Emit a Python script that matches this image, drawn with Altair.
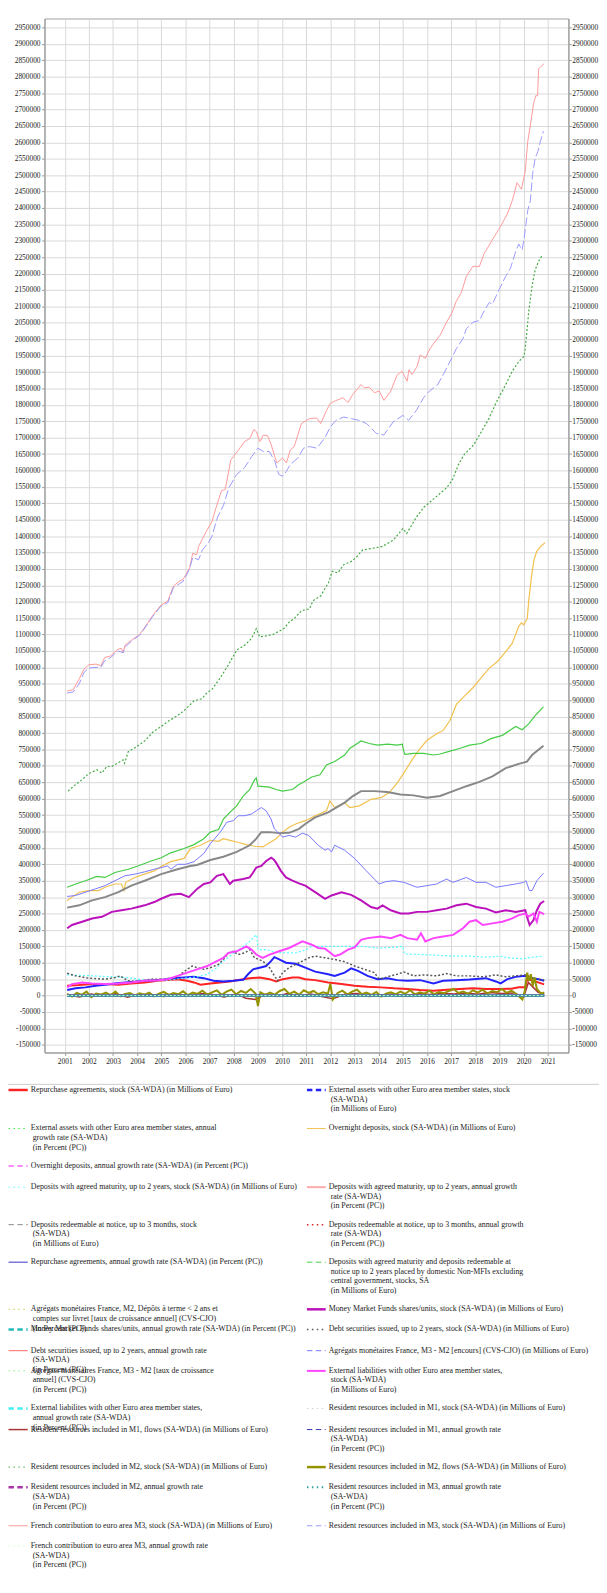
import altair as alt
import pandas as pd
from datetime import datetime

# ---------------- data (decimal year, value) ----------------
REPO_STOCK = [(2001.10, 30000), (2001.6, 32000), (2002.13, 35000), (2002.67, 35000), (2003.22, 33000), (2003.76, 37000),
              (2004.31, 40000), (2004.85, 45000), (2005.26, 47000), (2005.67, 50000), (2006.07, 45000), (2006.35, 40000),
              (2006.62, 33000), (2007.03, 37000), (2007.44, 40000), (2007.84, 43000), (2008.25, 48000), (2008.66, 53000),
              (2009.07, 55000), (2009.48, 50000), (2009.75, 43000), (2010.02, 50000), (2010.43, 55000), (2010.7, 55000),
              (2010.96, 50000), (2011.37, 47000), (2011.91, 40000), (2012.46, 35000), (2013.0, 30000), (2013.54, 27000),
              (2014.09, 25000), (2014.63, 22000), (2015.18, 20000), (2015.72, 17000), (2016.27, 15000), (2016.81, 18000),
              (2017.35, 20000), (2017.9, 22000), (2018.44, 20000), (2018.99, 20000), (2019.5, 21000), (2019.8, 25000),
              (2020.07, 25000), (2020.15, 50000), (2020.4, 45000), (2020.6, 40000), (2020.85, 34000)]
EXT_ASSETS_STOCK = [(2001.1, 17000), (2001.45, 22000), (2001.86, 25000), (2002.27, 30000), (2002.67, 33000), (2003.08, 37000),
                    (2003.49, 40000), (2003.9, 42000), (2004.31, 45000), (2004.71, 47000), (2005.12, 49000), (2005.53, 53000),
                    (2005.94, 55000), (2006.35, 57000), (2006.76, 53000), (2007.16, 45000), (2007.57, 43000), (2007.98, 45000),
                    (2008.39, 48000), (2008.59, 65000), (2008.8, 80000), (2009.07, 85000), (2009.34, 90000), (2009.54, 105000),
                    (2009.68, 117000), (2009.88, 110000), (2010.16, 100000), (2010.56, 97000), (2010.96, 85000), (2011.37, 73000),
                    (2011.91, 65000), (2012.18, 60000), (2012.59, 70000), (2012.86, 83000), (2013.14, 75000), (2013.54, 60000),
                    (2013.95, 50000), (2014.36, 53000), (2014.77, 47000), (2015.18, 45000), (2015.72, 47000), (2016.27, 37000),
                    (2016.67, 45000), (2017.22, 47000), (2017.76, 49000), (2018.44, 53000), (2018.85, 43000), (2019.05, 37000),
                    (2019.33, 50000), (2019.67, 57000), (2020.07, 60000), (2020.35, 53000), (2020.62, 50000), (2020.85, 45000)]
OVERNIGHT_STOCK = [(2001.1, 290000), (2001.3, 300000), (2001.6, 315000), (2002.0, 320000), (2002.4, 320000), (2002.67, 330000),
                   (2003.08, 340000), (2003.35, 340000), (2003.46, 320000), (2003.52, 345000), (2003.9, 360000), (2004.3, 370000),
                   (2004.71, 380000), (2004.99, 393000), (2005.39, 408000), (2005.94, 418000), (2006.21, 448000), (2006.62, 458000),
                   (2007.03, 473000), (2007.37, 470000), (2007.57, 478000), (2007.84, 473000), (2008.12, 468000), (2008.52, 460000),
                   (2008.86, 455000), (2009.2, 453000), (2009.48, 466000), (2009.75, 478000), (2010.02, 498000), (2010.29, 513000),
                   (2010.56, 523000), (2010.96, 533000), (2011.37, 548000), (2011.84, 563000), (2011.98, 593000), (2012.18, 573000),
                   (2012.59, 588000), (2012.8, 573000), (2013.2, 578000), (2013.68, 598000), (2014.09, 603000), (2014.43, 618000),
                   (2014.77, 648000), (2015.04, 678000), (2015.38, 718000), (2015.72, 753000), (2016.0, 778000), (2016.4, 798000),
                   (2016.67, 808000), (2016.95, 838000), (2017.22, 888000), (2017.49, 908000), (2017.9, 938000), (2018.24, 968000),
                   (2018.58, 998000), (2018.92, 1018000), (2019.26, 1048000), (2019.53, 1073000), (2019.8, 1125000),
                   (2019.91, 1136000), (2020.0, 1130000), (2020.15, 1148000), (2020.22, 1208000), (2020.33, 1278000),
                   (2020.43, 1328000), (2020.54, 1353000), (2020.7, 1368000), (2020.88, 1380000)]
DEP_AGREED_STOCK = [(2001.1, 63000), (2001.6, 62000), (2002.13, 60000), (2002.67, 58000), (2003.22, 57000), (2003.76, 53000),
                    (2004.31, 47000), (2004.85, 45000), (2005.39, 48000), (2005.94, 53000), (2006.48, 57000), (2006.9, 65000),
                    (2007.3, 85000), (2007.57, 105000), (2007.84, 120000), (2008.12, 135000), (2008.39, 150000), (2008.66, 165000),
                    (2008.86, 180000), (2008.95, 185000), (2009.0, 140000), (2009.34, 140000), (2009.75, 132000), (2010.16, 130000),
                    (2010.56, 130000), (2011.0, 140000), (2011.23, 150000), (2011.91, 150000), (2012.59, 150000), (2013.27, 150000),
                    (2013.95, 145000), (2014.63, 147000), (2015.0, 150000), (2015.07, 127000), (2015.72, 125000), (2016.4, 123000),
                    (2017.08, 120000), (2017.76, 120000), (2018.44, 117000), (2018.99, 120000), (2019.4, 115000), (2019.94, 112000),
                    (2020.35, 117000), (2020.82, 120000)]
DEP_REDEEM_STOCK = [(2001.1, 268000), (2001.6, 275000), (2002.13, 290000), (2002.67, 300000), (2003.22, 315000), (2003.76, 335000),
                    (2004.31, 350000), (2004.99, 370000), (2005.67, 385000), (2006.2, 395000), (2006.48, 398000), (2007.03, 413000),
                    (2007.57, 423000), (2008.12, 438000), (2008.66, 458000), (2008.93, 478000), (2009.14, 498000), (2009.48, 498000),
                    (2009.88, 495000), (2010.29, 496000), (2010.7, 508000), (2010.96, 523000), (2011.37, 543000), (2011.91, 558000),
                    (2012.59, 588000), (2012.93, 608000), (2013.27, 623000), (2013.82, 623000), (2014.36, 620000), (2014.9, 613000),
                    (2015.45, 610000), (2016.0, 603000), (2016.54, 608000), (2017.08, 623000), (2017.63, 638000), (2018.17, 651000),
                    (2018.71, 668000), (2019.26, 693000), (2019.8, 706000), (2020.14, 713000), (2020.35, 733000), (2020.82, 761000)]
DEP_AGREED_REDEEM_STOCK = [(2001.1, 330000), (2001.45, 340000), (2001.86, 350000), (2002.33, 363000), (2002.67, 360000),
                           (2003.08, 375000), (2003.63, 385000), (2004.03, 395000), (2004.58, 410000), (2004.99, 420000),
                           (2005.39, 435000), (2005.94, 448000), (2006.35, 460000), (2006.76, 478000), (2007.03, 498000),
                           (2007.37, 506000), (2007.57, 538000), (2007.84, 558000), (2008.12, 578000), (2008.39, 608000),
                           (2008.66, 628000), (2008.86, 658000), (2008.93, 663000), (2009.0, 638000), (2009.48, 635000),
                           (2009.75, 628000), (2010.02, 623000), (2010.43, 628000), (2010.7, 643000), (2010.82, 648000),
                           (2011.23, 666000), (2011.57, 673000), (2011.84, 703000), (2012.18, 713000), (2012.59, 733000),
                           (2012.8, 753000), (2013.0, 763000), (2013.27, 776000), (2013.61, 768000), (2013.95, 763000),
                           (2014.36, 766000), (2014.77, 763000), (2014.98, 766000), (2015.02, 750000), (2015.08, 735000),
                           (2015.45, 738000), (2015.86, 738000), (2016.27, 733000), (2016.54, 736000), (2016.95, 745000),
                           (2017.35, 753000), (2017.76, 763000), (2018.24, 768000), (2018.65, 783000), (2019.12, 793000),
                           (2019.53, 813000), (2019.67, 820000), (2019.94, 810000), (2020.21, 828000), (2020.48, 853000),
                           (2020.82, 880000)]
MMF_STOCK = [(2001.1, 205000), (2001.3, 215000), (2001.72, 225000), (2002.13, 235000), (2002.54, 240000), (2002.95, 255000),
             (2003.35, 260000), (2003.76, 265000), (2004.03, 270000), (2004.31, 275000), (2004.71, 285000), (2004.99, 295000),
             (2005.39, 307000), (2005.8, 310000), (2006.14, 300000), (2006.48, 325000), (2006.76, 340000), (2007.03, 345000),
             (2007.3, 365000), (2007.57, 370000), (2007.84, 340000), (2007.98, 350000), (2008.39, 355000), (2008.66, 360000),
             (2008.8, 375000), (2008.93, 390000), (2009.14, 395000), (2009.34, 410000), (2009.55, 420000), (2009.65, 415000),
             (2009.75, 405000), (2009.95, 380000), (2010.16, 360000), (2010.43, 350000), (2010.7, 342000), (2010.96, 335000),
             (2011.37, 315000), (2011.78, 295000), (2012.05, 305000), (2012.46, 315000), (2012.86, 307000), (2013.27, 290000),
             (2013.68, 270000), (2013.95, 265000), (2014.16, 275000), (2014.5, 260000), (2014.9, 250000), (2015.24, 250000),
             (2015.59, 255000), (2016.0, 255000), (2016.4, 260000), (2016.81, 265000), (2017.22, 275000), (2017.63, 280000),
             (2018.03, 270000), (2018.44, 265000), (2018.85, 253000), (2019.26, 260000), (2019.67, 255000), (2020.07, 260000),
             (2020.14, 240000), (2020.25, 215000), (2020.41, 230000), (2020.55, 260000), (2020.69, 280000), (2020.85, 288000)]
DEBT_STOCK = [(2001.1, 68000), (2001.45, 60000), (2001.99, 53000), (2002.67, 50000), (2003.1, 55000), (2003.29, 60000),
              (2003.63, 45000), (2004.03, 43000), (2004.58, 50000), (2005.12, 50000), (2005.67, 57000), (2006.07, 80000),
              (2006.28, 90000), (2006.48, 85000), (2006.76, 80000), (2007.03, 85000), (2007.37, 95000), (2007.57, 110000),
              (2007.78, 130000), (2007.98, 135000), (2008.18, 125000), (2008.46, 130000), (2008.66, 140000), (2008.86, 115000),
              (2009.2, 105000), (2009.48, 85000), (2009.68, 60000), (2009.82, 45000), (2010.02, 70000), (2010.29, 85000),
              (2010.56, 95000), (2010.84, 105000), (2011.1, 115000), (2011.37, 120000), (2011.78, 115000), (2012.18, 110000),
              (2012.59, 103000), (2013.0, 90000), (2013.41, 80000), (2013.82, 70000), (2014.02, 50000), (2014.36, 57000),
              (2014.77, 65000), (2015.04, 72000), (2015.45, 60000), (2015.86, 63000), (2016.4, 60000), (2016.81, 67000),
              (2017.22, 60000), (2017.76, 60000), (2018.31, 57000), (2018.85, 63000), (2019.26, 57000), (2019.67, 60000),
              (2020.07, 63000), (2020.48, 50000), (2020.85, 47000)]
M3M2_STOCK = [(2001.1, 302000), (2001.45, 305000), (2001.86, 315000), (2002.27, 325000), (2002.67, 335000), (2003.08, 350000),
              (2003.49, 365000), (2003.9, 370000), (2004.31, 377000), (2004.71, 385000), (2005.26, 395000), (2005.4, 385000),
              (2005.67, 400000), (2006.0, 400000), (2006.35, 408000), (2006.76, 433000), (2007.03, 463000), (2007.44, 498000),
              (2007.71, 528000), (2007.98, 533000), (2008.18, 548000), (2008.46, 548000), (2008.73, 553000), (2008.93, 563000),
              (2009.14, 573000), (2009.34, 563000), (2009.54, 538000), (2009.68, 508000), (2009.82, 498000), (2010.02, 483000),
              (2010.29, 488000), (2010.56, 483000), (2010.84, 495000), (2011.1, 488000), (2011.5, 458000), (2011.78, 443000),
              (2011.9, 448000), (2012.05, 438000), (2012.18, 458000), (2012.59, 443000), (2013.0, 418000), (2013.41, 386000),
              (2013.82, 355000), (2014.02, 340000), (2014.29, 347000), (2014.63, 350000), (2015.04, 345000), (2015.59, 330000),
              (2016.0, 335000), (2016.4, 340000), (2016.81, 355000), (2017.08, 345000), (2017.63, 360000), (2018.03, 345000),
              (2018.44, 345000), (2018.85, 330000), (2019.26, 335000), (2019.67, 340000), (2020.01, 345000), (2020.1, 350000),
              (2020.24, 320000), (2020.35, 320000), (2020.55, 350000), (2020.82, 373000)]
EXT_LIAB_STOCK = [(2001.1, 25000), (2001.3, 35000), (2001.72, 40000), (2002.13, 37000), (2002.67, 35000), (2003.22, 37000),
                  (2003.76, 40000), (2004.31, 45000), (2004.85, 47000), (2005.26, 50000), (2005.67, 60000), (2006.07, 70000),
                  (2006.48, 80000), (2006.9, 90000), (2007.3, 105000), (2007.57, 115000), (2007.78, 130000), (2008.12, 135000),
                  (2008.52, 150000), (2008.73, 140000), (2008.93, 125000), (2009.2, 115000), (2009.48, 125000), (2009.88, 135000),
                  (2010.29, 145000), (2010.7, 160000), (2010.84, 165000), (2011.23, 155000), (2011.5, 145000), (2011.78, 143000),
                  (2012.18, 120000), (2012.4, 125000), (2012.73, 140000), (2013.0, 147000), (2013.27, 170000), (2013.54, 175000),
                  (2014.09, 180000), (2014.5, 175000), (2014.9, 185000), (2015.18, 175000), (2015.59, 170000), (2015.75, 190000),
                  (2015.93, 165000), (2016.27, 175000), (2016.67, 180000), (2017.08, 185000), (2017.49, 205000), (2017.76, 225000),
                  (2018.03, 230000), (2018.31, 215000), (2018.71, 220000), (2019.12, 225000), (2019.53, 235000), (2019.8, 245000),
                  (2020.07, 250000), (2020.2, 240000), (2020.41, 250000), (2020.55, 225000), (2020.65, 255000), (2020.85, 248000)]
M1_FLOWS = [(2001.1, 3000), (2001.6, -4000), (2002.1, 5000), (2002.6, -2000), (2003.1, 6000), (2003.6, -5000), (2004.1, 4000),
            (2004.6, 2000), (2005.1, -3000), (2005.6, 5000), (2006.1, -2000), (2006.6, 6000), (2007.1, 3000), (2007.6, -4000),
            (2008.1, 5000), (2008.5, -8000), (2008.9, -12000), (2009.3, 4000), (2009.8, -3000), (2010.2, 6000), (2010.7, -2000),
            (2011.2, 5000), (2011.7, -4000), (2012.1, -10000), (2012.6, 4000), (2013.1, 6000), (2013.6, -3000), (2014.1, 2000),
            (2014.6, 5000), (2015.1, -2000), (2015.6, 6000), (2016.1, 3000), (2016.6, 7000), (2017.1, 5000), (2017.6, 8000),
            (2018.1, 4000), (2018.6, 9000), (2019.1, 6000), (2019.6, 8000), (2020.0, -5000), (2020.2, 40000), (2020.4, 25000),
            (2020.6, 10000), (2020.85, 5000)]
M2_STOCK = [(2001.14, 623000), (2001.45, 643000), (2001.72, 658000), (2001.99, 676000), (2002.33, 688000), (2002.54, 678000),
            (2002.74, 698000), (2002.95, 698000), (2003.22, 710000), (2003.42, 718000), (2003.48, 708000), (2003.63, 743000),
            (2003.97, 758000), (2004.31, 776000), (2004.65, 803000), (2004.99, 820000), (2005.33, 838000), (2005.67, 853000),
            (2005.94, 868000), (2006.35, 898000), (2006.69, 905000), (2006.89, 923000), (2007.1, 933000), (2007.44, 968000),
            (2007.78, 1008000), (2008.12, 1053000), (2008.46, 1068000), (2008.73, 1088000), (2008.93, 1118000), (2009.07, 1093000),
            (2009.34, 1096000), (2009.61, 1100000), (2009.95, 1113000), (2010.1, 1120000), (2010.29, 1138000), (2010.49, 1148000),
            (2010.81, 1173000), (2011.13, 1178000), (2011.28, 1203000), (2011.6, 1218000), (2011.92, 1258000), (2012.08, 1293000),
            (2012.31, 1288000), (2012.55, 1313000), (2012.87, 1323000), (2013.1, 1338000), (2013.34, 1358000), (2013.74, 1363000),
            (2014.13, 1368000), (2014.61, 1388000), (2015.0, 1423000), (2015.16, 1408000), (2015.56, 1458000), (2015.87, 1488000),
            (2016.35, 1518000), (2016.82, 1548000), (2017.06, 1573000), (2017.3, 1618000), (2017.53, 1648000), (2017.93, 1678000),
            (2018.17, 1708000), (2018.56, 1758000), (2018.85, 1805000), (2019.26, 1862000), (2019.53, 1902000), (2019.8, 1932000),
            (2020.01, 1947000), (2020.07, 1972000), (2020.21, 2082000), (2020.35, 2162000), (2020.48, 2212000), (2020.65, 2242000),
            (2020.78, 2257000)]
M2_FLOWS = [(2001.1, 5000), (2001.3, -3000), (2001.5, 8000), (2001.7, 2000), (2001.9, 12000), (2002.1, -5000), (2002.3, 6000),
            (2002.5, 3000), (2002.7, 9000), (2002.9, 1000), (2003.1, 12000), (2003.3, -2000), (2003.5, 5000), (2003.7, 8000),
            (2003.9, 0), (2004.1, 7000), (2004.3, 3000), (2004.5, 9000), (2004.7, -2000), (2004.9, 6000), (2005.1, 11000),
            (2005.3, 2000), (2005.5, 8000), (2005.7, 4000), (2005.9, 13000), (2006.1, 1000), (2006.3, 9000), (2006.5, 5000),
            (2006.7, 15000), (2006.9, 3000), (2007.1, 10000), (2007.3, 16000), (2007.5, 2000), (2007.7, 12000), (2007.9, 18000),
            (2008.1, 4000), (2008.3, 14000), (2008.5, 8000), (2008.7, 20000), (2008.9, 6000), (2009.0, -32000), (2009.1, 10000),
            (2009.3, 2000), (2009.5, 9000), (2009.7, 3000), (2009.9, 14000), (2010.1, 20000), (2010.3, 5000), (2010.5, 12000),
            (2010.7, 2000), (2010.9, 16000), (2011.1, 8000), (2011.3, 14000), (2011.5, 4000), (2011.7, 10000), (2011.9, 6000),
            (2012.0, 36000), (2012.1, -12000), (2012.3, 8000), (2012.5, 15000), (2012.7, 3000), (2012.9, 12000), (2013.1, 18000),
            (2013.3, 4000), (2013.5, 9000), (2013.7, 2000), (2013.9, 11000), (2014.1, -3000), (2014.3, 6000), (2014.5, 10000),
            (2014.7, 4000), (2014.9, 12000), (2015.1, 5000), (2015.3, 17000), (2015.5, 3000), (2015.7, 10000), (2015.9, 6000),
            (2016.1, 15000), (2016.3, 4000), (2016.5, 11000), (2016.7, 7000), (2016.9, 14000), (2017.1, 20000), (2017.3, 8000),
            (2017.5, 12000), (2017.7, 5000), (2017.9, 16000), (2018.1, 9000), (2018.3, 18000), (2018.5, 6000), (2018.7, 14000),
            (2018.9, 10000), (2019.1, 20000), (2019.3, 8000), (2019.5, 15000), (2019.7, 5000), (2019.95, -12000), (2020.05, 15000),
            (2020.15, 70000), (2020.22, 45000), (2020.3, 65000), (2020.38, 30000), (2020.45, 55000), (2020.55, 20000),
            (2020.65, 12000), (2020.75, 5000), (2020.85, 10000)]
FR_M3_STOCK = [(2001.10, 928000), (2001.35, 932000), (2001.6, 965000), (2001.8, 995000), (2002.0, 1008000), (2002.3, 1010000),
               (2002.5, 1005000), (2002.65, 1030000), (2002.9, 1035000), (2003.2, 1055000), (2003.35, 1058000), (2003.42, 1045000),
               (2003.5, 1068000), (2003.8, 1085000), (2004.1, 1100000), (2004.32, 1123000), (2004.64, 1158000), (2004.96, 1188000),
               (2005.27, 1203000), (2005.5, 1248000), (2005.75, 1263000), (2005.9, 1268000), (2006.17, 1303000), (2006.3, 1348000),
               (2006.46, 1343000), (2006.54, 1368000), (2006.85, 1413000), (2007.09, 1443000), (2007.25, 1483000),
               (2007.49, 1538000), (2007.65, 1543000), (2007.88, 1633000), (2007.99, 1643000), (2008.2, 1663000),
               (2008.44, 1688000), (2008.67, 1698000), (2008.83, 1725000), (2008.94, 1718000), (2009.07, 1688000),
               (2009.23, 1708000), (2009.4, 1706000), (2009.55, 1678000), (2009.78, 1623000), (2010.02, 1638000),
               (2010.18, 1623000), (2010.34, 1663000), (2010.5, 1673000), (2010.8, 1743000), (2011.13, 1758000),
               (2011.44, 1760000), (2011.6, 1743000), (2011.84, 1783000), (2012.0, 1805000), (2012.2, 1812000),
               (2012.52, 1822000), (2012.73, 1807000), (2012.93, 1832000), (2013.27, 1862000), (2013.4, 1852000),
               (2013.61, 1854000), (2013.82, 1837000), (2014.02, 1842000), (2014.22, 1814000), (2014.5, 1842000),
               (2014.77, 1892000), (2014.97, 1902000), (2015.18, 1872000), (2015.25, 1907000), (2015.38, 1892000),
               (2015.59, 1917000), (2015.72, 1952000), (2015.93, 1942000), (2016.13, 1972000), (2016.33, 1992000),
               (2016.54, 2012000), (2016.81, 2052000), (2017.01, 2077000), (2017.22, 2117000), (2017.42, 2142000),
               (2017.63, 2192000), (2017.9, 2222000), (2018.17, 2222000), (2018.37, 2262000), (2018.58, 2287000),
               (2018.78, 2312000), (2018.99, 2337000), (2019.12, 2354000), (2019.33, 2382000), (2019.53, 2422000),
               (2019.73, 2477000), (2019.91, 2457000), (2020.07, 2512000), (2020.17, 2602000), (2020.28, 2652000),
               (2020.41, 2717000), (2020.5, 2742000), (2020.58, 2742000), (2020.62, 2824000), (2020.85, 2840000)]
M3_STOCK = [(2001.10, 922000), (2001.35, 925000), (2001.6, 950000), (2001.8, 985000), (2002.0, 998000), (2002.3, 1000000),
            (2002.5, 1000000), (2002.65, 1020000), (2002.9, 1030000), (2003.2, 1050000), (2003.42, 1045000), (2003.5, 1062000),
            (2003.8, 1082000), (2004.1, 1098000), (2004.32, 1120000), (2004.64, 1155000), (2004.96, 1185000), (2005.27, 1198000),
            (2005.5, 1243000), (2005.75, 1255000), (2005.9, 1262000), (2006.17, 1300000), (2006.3, 1335000), (2006.54, 1328000),
            (2006.7, 1358000), (2006.93, 1378000), (2007.09, 1398000), (2007.33, 1458000), (2007.57, 1493000), (2007.8, 1548000),
            (2008.12, 1588000), (2008.44, 1608000), (2008.75, 1643000), (2008.99, 1668000), (2009.23, 1658000),
            (2009.47, 1658000), (2009.7, 1628000), (2009.86, 1588000), (2010.02, 1583000), (2010.18, 1598000),
            (2010.34, 1618000), (2010.65, 1638000), (2010.89, 1668000), (2011.13, 1673000), (2011.44, 1668000),
            (2011.76, 1698000), (2012.0, 1733000), (2012.23, 1753000), (2012.55, 1763000), (2012.87, 1758000),
            (2013.18, 1753000), (2013.5, 1743000), (2013.9, 1713000), (2014.21, 1708000), (2014.6, 1748000),
            (2015.0, 1768000), (2015.24, 1753000), (2015.56, 1783000), (2015.87, 1823000), (2016.1, 1842000),
            (2016.43, 1860000), (2016.67, 1892000), (2016.95, 1932000), (2017.22, 1972000), (2017.49, 2002000),
            (2017.63, 2032000), (2017.9, 2052000), (2018.17, 2057000), (2018.37, 2087000), (2018.58, 2112000),
            (2018.71, 2107000), (2018.99, 2152000), (2019.26, 2192000), (2019.46, 2217000), (2019.67, 2267000),
            (2019.8, 2290000), (2019.94, 2272000), (2020.03, 2312000), (2020.17, 2392000), (2020.28, 2422000),
            (2020.37, 2502000), (2020.48, 2552000), (2020.59, 2572000), (2020.69, 2602000), (2020.82, 2634000)]

# growth rates (percent), one reading per year; at this scale they sit on the zero line
GROWTH_T = [2001.1 + k for k in range(20)] + [2020.85]
EXT_ASSETS_GR = [38, 42, 30, 22, 12, 9, -8, 5, 55, 40, -28, -18, 25, -30, -8, -15, 12, 8, -20, 35, -12]
OVERNIGHT_GR = [6, 8, 5, 7, 9, 8, 6, -2, 3, 6, 5, 2, 1, 4, 10, 12, 11, 8, 7, 18, 22]
DEP_AGREED_GR = [-5, -8, -6, -10, -4, 8, 35, 60, 10, -25, 12, 8, 0, -2, -15, -4, -3, -2, -4, -3, 5]
DEP_REDEEM_GR = [3, 6, 7, 6, 5, 3, 4, 6, 8, 2, 7, 9, 6, 1, -1, -1, 3, 4, 4, 5, 8]
REPO_GR = [10, 12, -5, 20, 15, -10, -15, 20, 15, -10, 5, -10, -25, -20, -15, -20, 10, 5, -5, 30, 80]
AGR_M2_GR = [4, 7, 6, 5, 5, 4, 6, 9, 10, 1, 3, 6, 5, 2, 0, -1, 1, 3, 3, 4, 7]
MMF_GR = [12, 15, 10, 6, 8, 5, 10, -5, 18, -12, -15, 4, -5, -10, -2, 2, 5, -3, -5, 3, 10]
DEBT_GR = [-10, -15, -10, 5, 8, 50, 15, 30, -20, -50, 100, -5, -15, -30, 30, -10, 5, -5, 8, -10, -20]
M3M2_GR = [12, 10, 9, 5, 6, 4, 12, 15, 4, -12, -5, -6, -8, -15, -5, 0, 5, -2, -3, 2, 10]
EXT_LIAB_GR = [40, 60, 10, 5, 15, 30, 45, 40, -15, 20, 10, -15, 25, 5, -5, 2, 10, 15, 5, 10, 5]
M1_GR = [6, 8, 6, 7, 8, 8, 6, 1, 4, 6, 5, 2, 2, 4, 9, 11, 10, 8, 7, 16, 20]
M2_GR = [6, 8, 6, 6, 7, 6, 6, 7, 6, 4, 5, 6, 4, 3, 4, 4, 6, 6, 6, 10, 14]
M3_GR = [8, 9, 6, 7, 8, 9, 10, 5, 1, 3, 4, 4, 3, 2, 3, 5, 6, 5, 6, 12, 15]
FR_M3_GR = [8, 9, 6, 7, 8, 10, 12, 7, 0, 2, 5, 3, 2, 1, 4, 5, 7, 6, 6, 14, 16]


def gr(values):
    return list(zip(GROWTH_T, values))


# legend labels (text lines) in legend order
LABELS = [
    ["Repurchase agreements, stock (SA-WDA) (in Millions of Euro)"],
    ["External assets with other Euro area member states, stock", "(SA-WDA)", "(in Millions of Euro)"],
    ["External assets with other Euro area member states, annual", "growth rate (SA-WDA)", "(in Percent (PC))"],
    ["Overnight deposits, stock (SA-WDA) (in Millions of Euro)"],
    ["Overnight deposits, annual growth rate (SA-WDA) (in Percent (PC))"],
    ["Deposits with agreed maturity, up to 2 years, stock (SA-WDA) (in Millions of Euro)"],
    ["Deposits with agreed maturity, up to 2 years, annual growth", "rate (SA-WDA)", "(in Percent (PC))"],
    ["Deposits redeemable at notice, up to 3 months, stock", "(SA-WDA)", "(in Millions of Euro)"],
    ["Deposits redeemable at notice, up to 3 months, annual growth", "rate (SA-WDA)", "(in Percent (PC))"],
    ["Repurchase agreements, annual growth rate (SA-WDA) (in Percent (PC))"],
    ["Deposits with agreed maturity and deposits redeemable at", "notice up to 2 years placed by domestic Non-MFIs excluding",
     "central government, stocks, SA", "(in Millions of Euro)"],
    ["Agrégats monétaires France, M2, Dépôts à terme < 2 ans et", "comptes sur livret [taux de croissance annuel] (CVS-CJO)",
     "(in Percent (PC))"],
    ["Money Market Funds shares/units, stock (SA-WDA) (in Millions of Euro)"],
    ["Money Market Funds shares/units, annual growth rate (SA-WDA) (in Percent (PC))"],
    ["Debt securities issued, up to 2 years, stock (SA-WDA) (in Millions of Euro)"],
    ["Debt securities issued, up to 2 years, annual growth rate", "(SA-WDA)", "(in Percent (PC))"],
    ["Agrégats monétaires France, M3 - M2 [encours] (CVS-CJO) (in Millions of Euro)"],
    ["Agrégats monétaires France, M3 - M2 [taux de croissance", "annuel] (CVS-CJO)", "(in Percent (PC))"],
    ["External liabilities with other Euro area member states,", "stock (SA-WDA)", "(in Millions of Euro)"],
    ["External liabilites with other Euro area member states,", "annual growth rate (SA-WDA)", "(in Percent (PC))"],
    ["Resident resources included in M1, stock (SA-WDA) (in Millions of Euro)"],
    ["Resident resources included in M1, flows (SA-WDA) (in Millions of Euro)"],
    ["Resident resources included in M1, annual growth rate", "(SA-WDA)", "(in Percent (PC))"],
    ["Resident resources included in M2, stock (SA-WDA) (in Millions of Euro)"],
    ["Resident resources included in M2, flows (SA-WDA) (in Millions of Euro)"],
    ["Resident resources included in M2, annual growth rate", "(SA-WDA)", "(in Percent (PC))"],
    ["Resident resources included in M3, annual growth rate", "(SA-WDA)", "(in Percent (PC))"],
    ["French contribution to euro area M3, stock (SA-WDA) (in Millions of Euro)"],
    ["Resident resources included in M3, stock (SA-WDA) (in Millions of Euro)"],
    ["French contribution to euro area M3, annual growth rate", "(SA-WDA)", "(in Percent (PC))"],
]
SERIES_DATA = [
    REPO_STOCK, EXT_ASSETS_STOCK, gr(EXT_ASSETS_GR), OVERNIGHT_STOCK, gr(OVERNIGHT_GR), DEP_AGREED_STOCK,
    gr(DEP_AGREED_GR), DEP_REDEEM_STOCK, gr(DEP_REDEEM_GR), gr(REPO_GR), DEP_AGREED_REDEEM_STOCK, gr(AGR_M2_GR),
    MMF_STOCK, gr(MMF_GR), DEBT_STOCK, gr(DEBT_GR), M3M2_STOCK, gr(M3M2_GR), EXT_LIAB_STOCK, gr(EXT_LIAB_GR),
    [], M1_FLOWS, gr(M1_GR), M2_STOCK, M2_FLOWS, gr(M2_GR), gr(M3_GR), FR_M3_STOCK, M3_STOCK, gr(FR_M3_GR),
]

# ---------------- styles ----------------
COLORS = ["#ff2222", "#2222ff", "#33ee33", "#f2c14e", "#ff66ff", "#55ffff", "#ffaaaa", "#888888", "#dd2222", "#5555cc",
          "#44cc44", "#cccc44", "#bb11bb", "#22bbbb", "#555555", "#ff6666", "#7777ff", "#88ee88", "#ff44ff", "#44eeee",
          "#cccccc", "#aa3333", "#3333aa", "#44aa44", "#939300", "#aa33aa", "#2fa0a0", "#ff9999", "#9999ff", "#ccffcc"]
LEG_STYLE = ["solid", "dash", "dot", "solid", "dash", "dot", "solid", "dash", "dot", "solid",
             "dash", "dot", "solid", "dash", "dot", "solid", "dash", "dot", "solid", "dash",
             "dot", "solid", "dash", "dot", "solid", "dash", "dot", "solid", "dash", "dot"]
LEG_WIDTH = [2.5, 2.5, 1, 1, 1.5, 1, 2, 1, 1.5, 1.2, 1, 1, 2.5, 2.5, 1.5, 1, 1, 1, 2, 2.5,
             1, 1.5, 1, 1, 2.5, 2.5, 2, 1, 1, 1]
CHART_WIDTH = [2, 2, 1, 1.2, 1.5, 1.2, 2, 2, 1, 1.5, 1.2, 1, 2, 2.5, 1.5, 1, 1, 1, 2, 2.5,
               1, 1.5, 1, 1.2, 2, 2.5, 2.2, 1, 1, 1]
CHART_DASH = {i: [2, 2] for i, s in enumerate(LEG_STYLE) if s == "dot"}
CHART_DASH.pop(26)
CHART_DASH[28] = [9, 3]
LEG_DASH = {"dash": [5.5, 3.5], "dot": [1.5, 3.5]}

FONT = "Liberation Serif"
PLOT_W, PLOT_H = 531, 1048
PAD_L, PAD_R, PAD_B = 37, 31, 524


def to_date(t):
    y = int(t)
    a, b = datetime(y, 1, 1), datetime(y + 1, 1, 1)
    return a + (b - a) * (t - y)


# ---------------- main plot layers ----------------
Y_TICKS = list(range(-150000, 2950001, 50000))
y_scale = alt.Scale(domain=[-173500, 2977400], nice=False, zero=False)
x_scale = alt.Scale(domain=[alt.DateTime(year=2000, month=3, date=1), alt.DateTime(year=2021, month=11, date=9)])
common_axis = dict(tickSize=3, tickColor="#999999", domainColor="#999999", labelFont=FONT, labelFontSize=7.5,
                   labelColor="#222222", labelOverlap=False)
x_axis = alt.Axis(values=[alt.DateTime(year=y, month=1, date=1) for y in range(2001, 2022)], format="%Y",
                  grid=True, gridColor="#d8d8d8", labelPadding=2, labelFlush=False, **common_axis)
left_axis = alt.Axis(orient="left", values=Y_TICKS, labelExpr="'' + datum.value", grid=True, gridColor="#d8d8d8",
                     labelPadding=1.5, **common_axis)
right_axis = alt.Axis(orient="right", values=Y_TICKS, labelExpr="'' + datum.value", grid=False,
                      labelPadding=0.5, **common_axis)

layers = []
slot = 0
for i, data in enumerate(SERIES_DATA):
    if not data:
        continue
    df = pd.DataFrame({"date": [to_date(t) for t, _ in data], "value": [v for _, v in data]})
    xax = x_axis if slot == 0 else None
    yax = left_axis if slot == 0 else (right_axis if slot == 1 else None)
    slot += 1
    mk = dict(color=COLORS[i], strokeWidth=CHART_WIDTH[i])
    if i in CHART_DASH:
        mk["strokeDash"] = CHART_DASH[i]
    layers.append(
        alt.Chart(df).mark_line(**mk).encode(
            x=alt.X("date:T", scale=x_scale, axis=xax, title=None),
            y=alt.Y("value:Q", scale=y_scale, axis=yax, title=None),
        )
    )

# ---------------- legend below the plot (pixel layout relative to the plot origin) ----------------
LEGEND_ROWS = [(0, 1), (2, 3), (4, None), (5, 6), (7, 8), (9, 10), (11, 12), (13, 14), (15, 16), (17, 18),
               (19, 20), (21, 22), (23, 24), (25, 26), (27, 28), (29, None)]
ROW_STEPS = [40, 39, 22, 39, 39, 49, 21, 22, 21, 39, 22, 39, 21, 40, 21]
SQUEEZE = 0.975
LINE_H = 9.75
COL_SYM = [(0.5 - PAD_L, 20 - PAD_L), (303 - PAD_L, 322 - PAD_L)]
COL_TEXT = [23 - PAD_L, 325 - PAD_L]
RULE_Y = 1080.3
FIRST_ROW_Y = 1086

sym_rows, txt_rows = [], []
ycur = FIRST_ROW_Y
for r, pair in enumerate(LEGEND_ROWS):
    for c, idx in enumerate(pair):
        if idx is None:
            continue
        sym_rows.append(dict(x1=COL_SYM[c][0], x2=COL_SYM[c][1], y=ycur, color=COLORS[idx], w=LEG_WIDTH[idx],
                             style=LEG_STYLE[idx]))
        for k, line in enumerate(LABELS[idx]):
            txt_rows.append(dict(x=COL_TEXT[c] + (2 if k else 0), y=ycur + k * LINE_H, text=line))
    if r < len(ROW_STEPS):
        ycur += ROW_STEPS[r] * SQUEEZE

sym_df = pd.DataFrame(sym_rows)
txt_df = pd.DataFrame(txt_rows)
sep_df = pd.DataFrame({"x1": [-PAD_L], "x2": [PLOT_W + PAD_R], "y": [RULE_Y]})

leg_layers = [
    alt.Chart(sep_df).mark_rule(color="#cccccc", strokeWidth=1).encode(
        x=alt.X("x1:Q", scale=None, axis=None), x2="x2:Q", y=alt.Y("y:Q", scale=None, axis=None)
    )
]
for style in ["solid", "dash", "dot"]:
    mk = {}
    if style in LEG_DASH:
        mk["strokeDash"] = LEG_DASH[style]
    leg_layers.append(
        alt.Chart(sym_df[sym_df["style"] == style]).mark_rule(**mk).encode(
            x=alt.X("x1:Q", scale=None, axis=None),
            x2="x2:Q",
            y=alt.Y("y:Q", scale=None, axis=None),
            color=alt.Color("color:N", scale=None, legend=None),
            strokeWidth=alt.StrokeWidth("w:Q", scale=None, legend=None),
        )
    )
leg_layers.append(
    alt.Chart(txt_df).mark_text(align="left", baseline="middle", font=FONT, fontSize=8, color="#222222").encode(
        x=alt.X("x:Q", scale=None, axis=None),
        y=alt.Y("y:Q", scale=None, axis=None),
        text="text:N",
    )
)

chart = (
    alt.layer(*layers, *leg_layers)
    .resolve_scale(x="independent", y="independent")
    .resolve_axis(x="independent", y="independent")
    .properties(
        width=PLOT_W,
        height=PLOT_H,
        autosize=alt.AutoSizeParams(type="none"),
        padding={"left": PAD_L, "top": 0, "right": PAD_R, "bottom": PAD_B},
        view=alt.ViewBackground(stroke="#a0a0a0", strokeWidth=1),
    )
)

chart.save("out.html", embed_options={"renderer": "svg", "actions": False})
